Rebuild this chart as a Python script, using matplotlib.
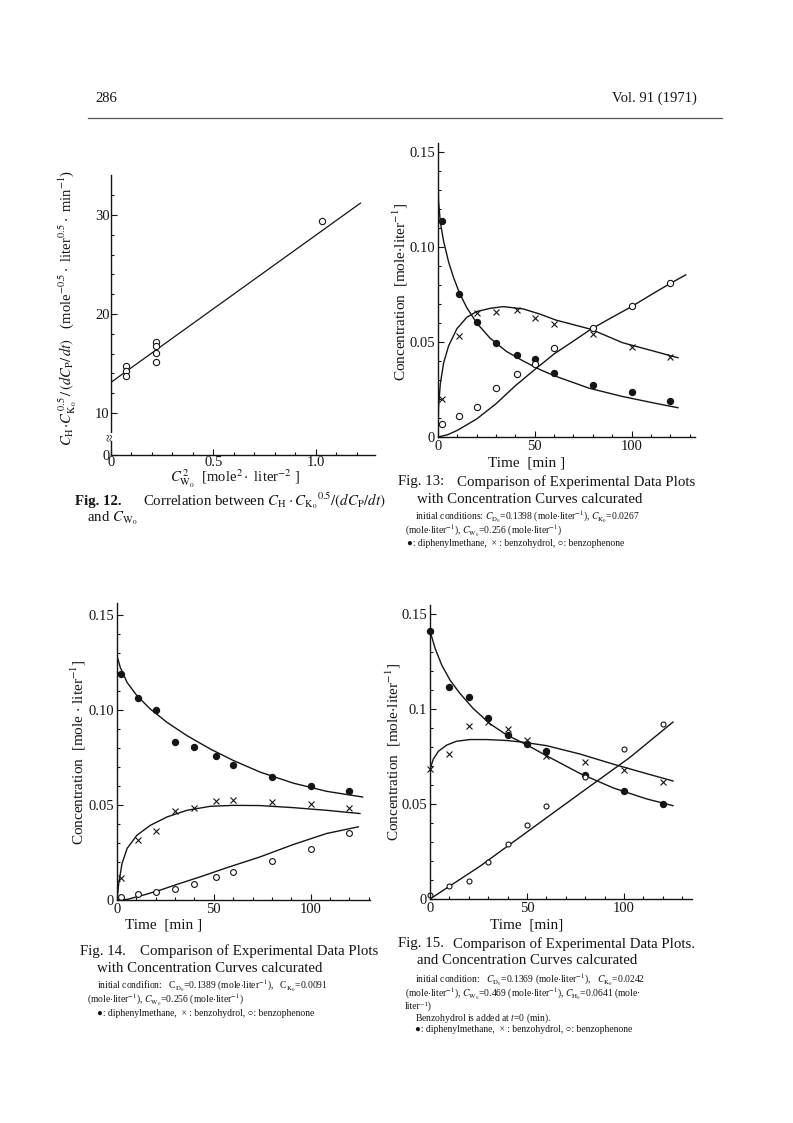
import matplotlib
matplotlib.use("Agg")
import matplotlib.pyplot as plt
from matplotlib.ticker import MultipleLocator, FixedLocator

plt.rcParams['font.family'] = ['Liberation Serif', 'DejaVu Serif', 'DejaVu Sans']
plt.rcParams['mathtext.fontset'] = 'stix'

W, H = 793, 1123
INK = '#151515'

# ---------------- data ----------------
# Fig. 12
f12_x = [0.074, 0.074, 0.074, 0.219, 0.219, 0.219, 0.219, 1.03]
f12_y = [14.7, 14.2, 13.7, 17.2, 16.8, 16.1, 15.2, 29.4]
f12_fit_x = [0.0, 1.217]
f12_fit_y = [13.1, 31.2]

# Fig. 13
f13_t = [2, 11, 20, 30, 41, 50, 60, 80, 100, 120]
f13_D = [0.1135, 0.075, 0.0603, 0.0493, 0.0433, 0.0411, 0.0337, 0.0273, 0.0238, 0.0188]
f13_H = [0.0199, 0.0532, 0.0651, 0.0656, 0.0668, 0.0626, 0.0594, 0.0541, 0.0473, 0.042]
f13_K = [0.0066, 0.0112, 0.016, 0.0257, 0.0333, 0.0385, 0.0466, 0.0576, 0.0691, 0.0812]
f13_cD_t = [0, 0.3, 1.2, 2.9, 5.5, 8, 11, 14.9, 20, 26.9, 35.4, 44, 52.6, 61, 78, 95.4, 112.5, 124]
f13_cD_y = [0.140, 0.124, 0.113, 0.103, 0.092, 0.084, 0.076, 0.068, 0.060, 0.052, 0.045, 0.040,
            0.0355, 0.0319, 0.0257, 0.0213, 0.0177, 0.0154]
f13_cH_t = [0, 0.3, 1.2, 2.9, 5.5, 9.8, 14.9, 20, 26.9, 33.7, 44, 52.6, 61, 79, 95.4, 112.5, 124]
f13_cH_y = [0.0, 0.016, 0.028, 0.039, 0.048, 0.057, 0.063, 0.066, 0.0677, 0.0686, 0.0674, 0.0647,
            0.0615, 0.0567, 0.0496, 0.0449, 0.0417]
f13_cK_t = [0, 5, 10, 20, 30, 40, 50, 60, 70, 79, 90, 100, 110, 120, 128]
f13_cK_y = [0.0, 0.0012, 0.0035, 0.0095, 0.0175, 0.027, 0.0355, 0.0437, 0.0505, 0.0567, 0.063,
            0.0686, 0.0748, 0.0808, 0.0853]

# Fig. 14
f14_t = [2, 11, 20, 30, 40, 51, 60, 80, 100, 120]
f14_D = [0.1189, 0.1063, 0.1002, 0.083, 0.0804, 0.0757, 0.071, 0.0647, 0.06, 0.0573]
f14_H = [0.0114, 0.0315, 0.0364, 0.0467, 0.0486, 0.0519, 0.0528, 0.0516, 0.0503, 0.0486]
f14_K = [0.0014, 0.003, 0.004, 0.0058, 0.0084, 0.0119, 0.0149, 0.0206, 0.0271, 0.035]
f14_cD_t = [0, 1.7, 5.2, 10.3, 17.2, 25.8, 36.1, 48.1, 60.1, 73.9, 91, 108.2, 126.8]
f14_cD_y = [0.1285, 0.1224, 0.1145, 0.1075, 0.1005, 0.0935, 0.0865, 0.0795, 0.0734, 0.0673,
            0.0615, 0.0572, 0.0542]
f14_cH_t = [0, 0.9, 2.6, 5.2, 10.3, 17.2, 25.8, 36.1, 48.1, 60.1, 73.9, 91, 108.2, 125.4]
f14_cH_y = [0.0, 0.0087, 0.0192, 0.0271, 0.0341, 0.0393, 0.0437, 0.0472, 0.0493, 0.0498, 0.0497,
            0.0486, 0.0472, 0.0455]
f14_cK_t = [0, 5.2, 13.7, 22.3, 30.9, 43, 56.7, 73.9, 91, 108.2, 124.6]
f14_cK_y = [0.0, 0.0003, 0.0026, 0.0052, 0.0082, 0.0122, 0.017, 0.0227, 0.0292, 0.035, 0.0385]

# Fig. 15
f15_t = [0, 10, 20, 30, 40, 50, 60, 80, 100, 120]
f15_D = [0.141, 0.1115, 0.1064, 0.0952, 0.0865, 0.0814, 0.0777, 0.0652, 0.0567, 0.0502]
f15_H = [0.0683, 0.0762, 0.0908, 0.0931, 0.0892, 0.0839, 0.0754, 0.0723, 0.0677, 0.0617]
f15_K = [0.0023, 0.0066, 0.0094, 0.0195, 0.0287, 0.039, 0.0488, 0.0642, 0.0789, 0.0922]
f15_cD_t = [0, 2.6, 6, 10.3, 15.4, 22.3, 30.9, 39.4, 49.7, 60, 77.2, 94.3, 111.5, 125.2]
f15_cD_y = [0.141, 0.132, 0.1232, 0.1152, 0.1082, 0.1002, 0.0922, 0.0864, 0.0812, 0.0754,
            0.0661, 0.0585, 0.0527, 0.0491]
f15_cH_t = [0, 1.7, 4.3, 8.6, 13.7, 20.6, 29.2, 39.5, 48, 60, 77.2, 94.3, 111.5, 125.2]
f15_cH_y = [0.0683, 0.0736, 0.0777, 0.081, 0.083, 0.0839, 0.0839, 0.0834, 0.0825, 0.0807,
            0.0763, 0.071, 0.066, 0.0621]
f15_cK_t = [0, 25.7, 51.5, 77.2, 103, 125.2]
f15_cK_y = [0.0, 0.0172, 0.0364, 0.0555, 0.0745, 0.0931]

# ---------------- figure ----------------
fig = plt.figure(figsize=(W / 100, H / 100), dpi=100)
fig.patch.set_facecolor('white')

CAP = 10.7
SMALL = 6.9
LAB = 11
ML = r"mole$\cdot$liter$^{-1}$"


def px_axes(left, top, right, bottom):
    return fig.add_axes([left / W, 1 - bottom / H, (right - left) / W, (bottom - top) / H])


def T(x, y, s, size=10, ha='left', va='center', **kw):
    fig.text(x / W, 1 - y / H, s, fontsize=size, ha=ha, va=va, color=INK, **kw)


def style(ax):
    for s in ('top', 'right'):
        ax.spines[s].set_visible(False)
    for s in ('left', 'bottom'):
        ax.spines[s].set_linewidth(1.0)
        ax.spines[s].set_color(INK)
    ax.tick_params(which='both', direction='in', colors=INK, labelsize=10.5, width=0.8)
    ax.tick_params(which='major', length=4, pad=3)
    ax.tick_params(which='minor', length=2.5)
    ax.tick_params(axis='x', which='major', pad=2)
    ax.patch.set_alpha(0)


# header
T(95, 98, "286", size=10.5)
T(697, 98, "Vol. 91 (1971)", size=10.5, ha='right')
fig.add_artist(plt.Line2D([88 / W, 722 / W], [1 - 118 / H, 1 - 118 / H], color='#555555', lw=0.9))

# ---------------- Fig. 12 ----------------
ax = px_axes(111, 175, 375, 455)
style(ax)
ax.plot(f12_fit_x, f12_fit_y, color=INK, lw=0.9)
ax.plot(f12_x, f12_y, 'o', ms=4.5, mfc='white', mec=INK, mew=0.8, ls='none')
ax.set_xlim(0, 1.288)
ax.set_ylim(5.76, 34.04)
ax.xaxis.set_major_locator(FixedLocator([0, 0.5, 1.0]))
ax.set_xticklabels(["0", "0.5", "1.0"])
ax.xaxis.set_minor_locator(MultipleLocator(0.1))
ax.yaxis.set_major_locator(FixedLocator([5.76, 10, 20, 30]))
ax.set_yticklabels(["0", "10", "20", "30"])
ax.yaxis.set_minor_locator(FixedLocator([12, 14, 16, 18, 22, 24, 26, 28, 32]))
ax.tick_params(axis='y', which='major', pad=1)
ax.tick_params(axis='x', which='major', pad=1)
ax.text(0, 7.6, "≈", rotation=90, ha='center', va='center', fontsize=10, color=INK,
        transform=ax.get_yaxis_transform(), clip_on=False,
        bbox=dict(facecolor='white', edgecolor='none', pad=0.2))
T(68, 308, r"$C_{\rm H}\!\cdot\!C_{{\rm K}_0}^{\,0.5}\,/\,(dC_{\rm P}/\,dt)$   (mole$^{-0.5}\cdot$ liter$^{0.5}\cdot$ min$^{-1}$)",
  size=10.5, ha='center', rotation=90)
T(235, 479, r"$C^{\,2}_{\rm W_0}$  [mole$^{2}\cdot$ liter$^{-2}$ ]", size=10.5, ha='center')
T(75, 501, "Fig. 12.", size=CAP, weight='bold')
T(143, 501, r"Correlation between $C_{\rm H}\cdot C_{{\rm K}_0}{}^{0.5}/(dC_{\rm P}/dt)$", size=CAP)
T(87, 518, r"and $C_{\rm W_0}$", size=CAP)


# ---------------- concentration plots ----------------
def conc_plot(ax, xmax, ymax, t, D, Hh, K, cD, cH, cK, ms_open=4.5, yticklabels=None):
    style(ax)
    ax.plot(cD[0], cD[1], color=INK, lw=1.0)
    ax.plot(cH[0], cH[1], color=INK, lw=1.0)
    ax.plot(cK[0], cK[1], color=INK, lw=1.0)
    ax.plot(t, D, 'o', ms=4.3, color=INK, ls='none', clip_on=False)
    ax.plot(t, Hh, 'x', ms=4.0, mew=0.8, color=INK, ls='none', clip_on=False)
    ax.plot(t, K, 'o', ms=ms_open, mfc='white', mec=INK, mew=0.8, ls='none', clip_on=False)
    ax.set_xlim(0, xmax)
    ax.set_ylim(0, ymax)
    ax.xaxis.set_major_locator(FixedLocator([0, 50, 100]))
    ax.xaxis.set_minor_locator(MultipleLocator(10))
    ax.yaxis.set_major_locator(FixedLocator([0, 0.05, 0.10, 0.15]))
    ax.yaxis.set_minor_locator(MultipleLocator(0.01))
    ax.set_xticklabels(["0", "50", "100"])
    ax.set_yticklabels(yticklabels or ["0", "0.05", "0.10", "0.15"])
    ax.tick_params(axis='y', which='major', pad=2)


ax13 = px_axes(438, 143, 695, 437)
conc_plot(ax13, 132.8, 0.1547, f13_t, f13_D, f13_H, f13_K,
          (f13_cD_t, f13_cD_y), (f13_cH_t, f13_cH_y), (f13_cK_t, f13_cK_y))
T(400, 292, r"Concentration  [mole$\cdot$liter$^{-1}$]", size=LAB, ha='center', rotation=90)
T(527, 463, "Time  [min ]", size=LAB, ha='center')
T(398, 482, "Fig. 13:", size=CAP)
T(457, 482, "Comparison of Experimental Data Plots", size=CAP)
T(417, 499, "with Concentration Curves calcurated", size=CAP)
T(415, 516, f"initial conditions: $C_{{\\rm D_0}}$=0.1398 ({ML}), $C_{{\\rm K_0}}$=0.0267", size=SMALL)
T(405, 530, f"({ML}), $C_{{\\rm W_0}}$=0.256 ({ML})", size=SMALL)
T(407, 544, "●: diphenylmethane,  × : benzohydrol, ○: benzophenone", size=SMALL)

ax14 = px_axes(117, 603, 370, 900)
conc_plot(ax14, 130.6, 0.1563, f14_t, f14_D, f14_H, f14_K,
          (f14_cD_t, f14_cD_y), (f14_cH_t, f14_cH_y), (f14_cK_t, f14_cK_y), ms_open=4.2)
T(78, 752, r"Concentration  [mole $\cdot$ liter$^{-1}$]", size=LAB, ha='center', rotation=90)
T(164, 925, "Time  [min ]", size=LAB, ha='center')
T(80, 951, "Fig. 14.", size=CAP)
T(140, 951, "Comparison of Experimental Data Plots", size=CAP)
T(97, 968, "with Concentration Curves calcurated", size=CAP)
T(97, 985, f"initial condifion:   C$_{{\\rm D_0}}$=0.1389 ({ML}),   C$_{{\\rm K_0}}$=0.0091", size=SMALL)
T(87, 999, f"({ML}), $C_{{\\rm W_0}}$=0.256 ({ML})", size=SMALL)
T(97, 1013, "●: diphenylmethane,  × : benzohydrol, ○: benzophenone", size=SMALL)

ax15 = px_axes(430, 605, 692, 899)
conc_plot(ax15, 135.0, 0.1547, f15_t, f15_D, f15_H, f15_K,
          (f15_cD_t, f15_cD_y), (f15_cH_t, f15_cH_y), (f15_cK_t, f15_cK_y), ms_open=3.6,
          yticklabels=["0", "0.05", "0.1", "0.15"])
T(393, 752, r"Concentration  [mole$\cdot$liter$^{-1}$]", size=LAB, ha='center', rotation=90)
T(527, 925, "Time  [min]", size=LAB, ha='center')
T(398, 944, "Fig. 15.", size=CAP)
T(453, 944, "Comparison of Experimental Data Plots.", size=CAP)
T(417, 961, "and Concentration Curves calcurated", size=CAP)
T(415, 979, f"initial condition:   $C_{{\\rm D_0}}$=0.1369 ({ML}),   $C_{{\\rm K_0}}$=0.0242", size=SMALL)
T(405, 993, f"({ML}), $C_{{\\rm W_0}}$=0.469 ({ML}), $C_{{\\rm H_0}}$=0.0641 (mole·", size=SMALL)
T(405, 1006, "liter⁻¹)", size=SMALL)
T(415, 1018, r"Benzohydrol is added at $t$=0 (min).", size=SMALL)
T(415, 1030, "●: diphenylmethane,  × : benzohydrol, ○: benzophenone", size=SMALL)

fig.savefig("out.png", dpi=100, facecolor='white')
